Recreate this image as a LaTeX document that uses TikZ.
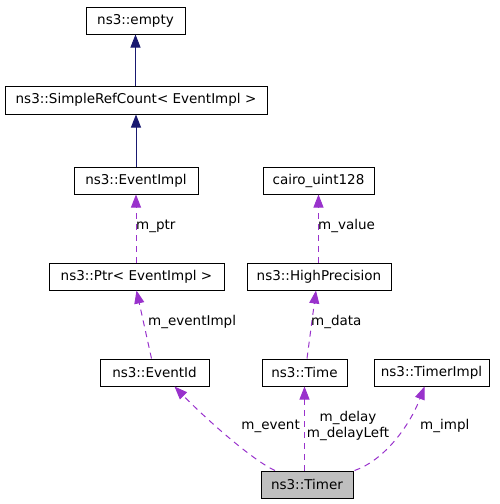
\documentclass[tikz,border=0pt]{standalone}
\usepackage{fontspec}
\setmainfont{DejaVu Sans}
\usetikzlibrary{arrows.meta}
\definecolor{inhblue}{HTML}{191970}
\definecolor{usepurple}{HTML}{9932CC}
\definecolor{mainfill}{HTML}{BFBFBF}
\tikzset{
	cls/.style={draw=black, line width=1pt, inner sep=0pt, minimum height=27pt, font=\fontsize{13.5}{15}\selectfont},
	inh/.style={draw=inhblue, line width=1pt, -{Triangle[length=13pt,width=10pt]}},
	use/.style={draw=usepurple, line width=1pt, dash pattern=on 6pt off 5pt, -{Triangle[length=13pt,width=10pt]}},
	lbl/.style={inner sep=0pt, font=\fontsize{13.5}{16}\selectfont}
}
\begin{document}
\begin{tikzpicture}[x=1pt, y=-1pt]
	\useasboundingbox (0,0) rectangle (500,504);
	\node[cls, minimum width=99pt] (empty) at (135.5,20.5) {ns3::empty};
	\node[cls, minimum width=262pt, minimum height=28pt] (src) at (136,100) {ns3::SimpleRefCount< EventImpl >};
	\node[cls, minimum width=124pt] (evimpl) at (136,180.5) {ns3::EventImpl};
	\node[cls, minimum width=111pt] (cairo) at (318.5,180.5) {cairo\_uint128};
	\node[cls, minimum width=175pt] (ptr) at (136.5,276.5) {ns3::Ptr< EventImpl >};
	\node[cls, minimum width=144pt] (hp) at (319,276.5) {ns3::HighPrecision};
	\node[cls, minimum width=109pt] (evid) at (154.5,372.5) {ns3::EventId};
	\node[cls, minimum width=85pt] (time) at (304.5,372.5) {ns3::Time};
	\node[cls, minimum width=115pt] (timerimpl) at (431.5,372.5) {ns3::TimerImpl};
	\node[cls, minimum width=92pt, fill=mainfill] (timer) at (307,484.5) {ns3::Timer};

	\draw[inh] (src.north -| empty) -- (empty.south);
	\draw[inh] (evimpl.north) -- (src.south -| evimpl);
	\draw[use] (ptr.north -| evimpl) -- (evimpl.south);
	\draw[use] (hp.north -| cairo) -- (cairo.south);
	\draw[use] ([xshift=-3pt]evid.north) -- (ptr.south);
	\draw[use] ([xshift=2.5pt]time.north) -- ([xshift=-3pt]hp.south);
	\draw[use] ([xshift=-32pt]timer.north) .. controls (252,460) and (205,418) .. ([xshift=20pt]evid.south);
	\draw[use] (timer.north -| time) -- (time.south);
	\draw[use] ([xshift=1pt]timer.north east) .. controls (385,460) and (410,425) .. ([xshift=-7pt]timerimpl.south);

	\node[lbl, anchor=west] (lptr) at (136,226) {m\_ptr};
	\node[lbl, anchor=west] (lvalue) at (318,226) {m\_value};
	\node[lbl, anchor=west] (levimpl) at (148,322) {m\_eventImpl};
	\node[lbl, anchor=west] (ldata) at (311,322) {m\_data};
	\node[lbl, anchor=east] (levent) at (300,426) {m\_event};
	\node[lbl, align=center] (ldelay) at (348,426) {m\_delay\\m\_delayLeft};
	\node[lbl, anchor=west] (limpl) at (420,426) {m\_impl};
\end{tikzpicture}
\end{document}
